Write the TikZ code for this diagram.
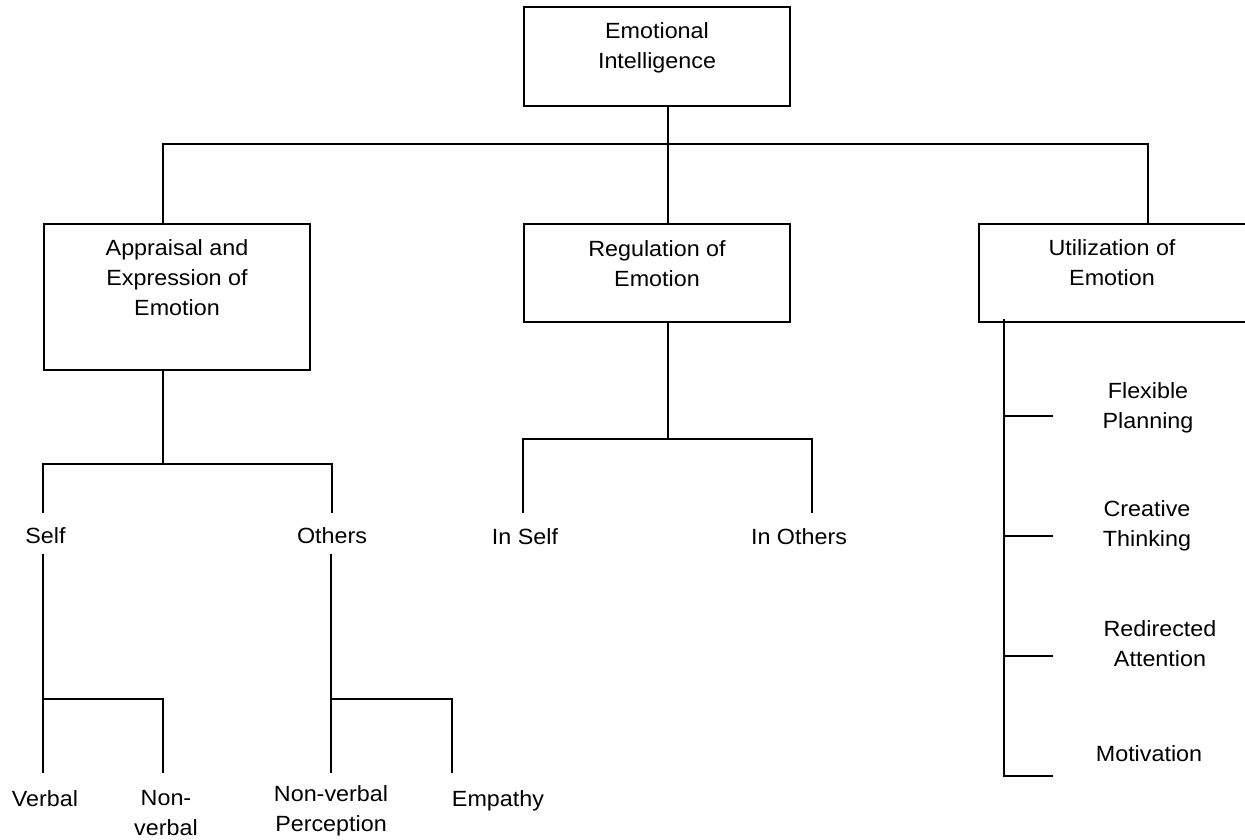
\documentclass[tikz,border=0pt]{standalone}
\usepackage{fontspec}
\setmainfont{Liberation Sans}[FakeStretch=1.06]
\begin{document}
\begin{tikzpicture}[x=1pt,y=-1pt,line width=2pt,
  box/.style={draw=black,line width=2pt,minimum width=266pt,inner sep=0pt},
  lbl/.style={anchor=north,align=center,inner sep=0pt,font=\fontsize{22}{30}\selectfont},
  ln/.style={draw=black,line width=2pt,line cap=rect}]
\path[use as bounding box,fill=white] (0,0) rectangle (1245,840);
\clip (0,0) rectangle (1245,840);
% boxes
\node[box,minimum height=99pt] (ei) at (657,56.5) {};
\node[box,minimum height=146pt] (ae) at (177,297) {};
\node[box,minimum height=98pt] (re) at (657,273) {};
\node[box,minimum width=268pt,minimum height=98pt] (ue) at (1113,273) {};
% box texts (north = first baseline - 21)
\node[lbl] (eit) at (657,17) {\strut Emotional\\Intelligence};
\node[lbl] (aet) at (177,233) {\strut Appraisal and\\Expression of\\Emotion};
\node[lbl] (ret) at (657,234) {\strut Regulation of\\Emotion};
\node[lbl] (uet) at (1112,233) {\strut Utilization of\\Emotion};
% leaf texts
\node[lbl] (self) at (45.5,521) {\strut Self};
\node[lbl] (oth) at (332,521) {\strut Others};
\node[lbl] (ins) at (525,522) {\strut In Self};
\node[lbl] (ino) at (799,522) {\strut In Others};
\node[lbl] (verb) at (45,784) {\strut Verbal};
\node[lbl] (nonv) at (166,783) {\strut Non-\\verbal};
\node[lbl] (nvp) at (331,779) {\strut Non-verbal\\Perception};
\node[lbl] (emp) at (498,784) {\strut Empathy};
\node[lbl] (flex) at (1148,376) {\strut Flexible\\Planning};
\node[lbl] (crea) at (1147,494) {\strut Creative\\Thinking};
\node[lbl] (redi) at (1160,614) {\strut Redirected\\Attention};
\node[lbl] (moti) at (1149,739) {\strut Motivation};
% junction coordinates
\coordinate (b0) at (668,144);
\coordinate (bL) at (163,144);
\coordinate (bR) at (1148,144);
\coordinate (a1) at (163,464);
\coordinate (aL) at (43,464);
\coordinate (aR) at (332,464);
\coordinate (sT) at (43,512);
\coordinate (oT) at (332,512);
\coordinate (sB) at (43,555);
\coordinate (s1) at (43,699);
\coordinate (s2) at (163,699);
\coordinate (vE) at (43,772);
\coordinate (nE) at (163,772);
\coordinate (oB) at (331,555);
\coordinate (o1) at (331,699);
\coordinate (o2) at (452,699);
\coordinate (pE) at (331,772);
\coordinate (eE) at (452,772);
\coordinate (r1) at (668,439);
\coordinate (rL) at (523,439);
\coordinate (rR) at (812,439);
\coordinate (rLT) at (523,512);
\coordinate (rRT) at (812,512);
\coordinate (uT) at (1004,320);
\coordinate (u1) at (1004,416);
\coordinate (u2) at (1004,536);
\coordinate (u3) at (1004,656);
\coordinate (u4) at (1004,776);
\coordinate (f1) at (1052,416);
\coordinate (f2) at (1052,536);
\coordinate (f3) at (1052,656);
\coordinate (f4) at (1052,776);
% connectors
\draw[ln] (ei.south -| b0) -- (re.north -| b0);
\draw[ln] (bL) -- (bR);
\draw[ln] (bL) -- (ae.north -| bL);
\draw[ln] (bR) -- (ue.north -| bR);
\draw[ln] (ae.south -| a1) -- (a1);
\draw[ln] (sT) -- (aL) -- (aR) -- (oT);
\draw[ln] (sB) -- (vE);
\draw[ln] (s1) -- (s2) -- (nE);
\draw[ln] (oB) -- (pE);
\draw[ln] (o1) -- (o2) -- (eE);
\draw[ln] (re.south -| r1) -- (r1);
\draw[ln] (rLT) -- (rL) -- (rR) -- (rRT);
\draw[ln] (uT) -- (u4);
\draw[ln] (u1) -- (f1);
\draw[ln] (u2) -- (f2);
\draw[ln] (u3) -- (f3);
\draw[ln] (u4) -- (f4);
\end{tikzpicture}
\end{document}
